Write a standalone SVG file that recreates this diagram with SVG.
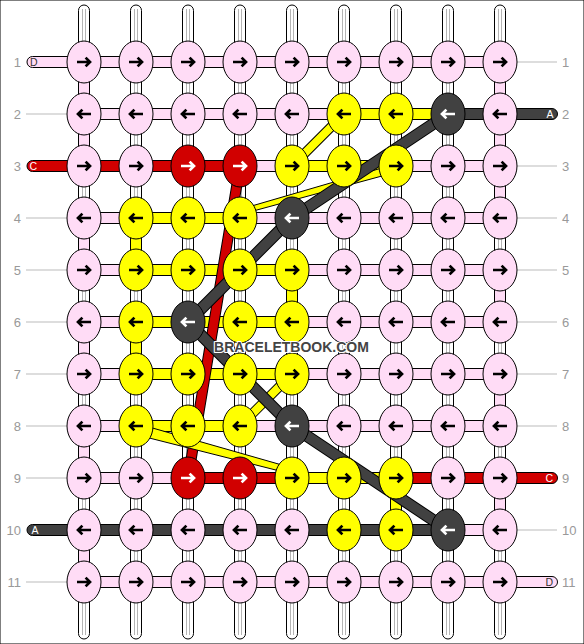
<svg xmlns="http://www.w3.org/2000/svg" xmlns:xlink="http://www.w3.org/1999/xlink" width="584" height="644" viewBox="0 0 584 644">
<style>
.P{fill:#ffdcf6}.Y{fill:#ffff00}.R{fill:#d10000}.G{fill:#414141}.W{fill:#fff}
ellipse,rect{stroke:#000;stroke-width:1}
.b{stroke:#000}.w{stroke:#fff}
.in{stroke:#b4b4b4;stroke-width:1}
.lbl{font-family:"Liberation Sans",Arial,sans-serif;font-size:13px;fill:#999}
.ll{stroke:#bbb;stroke-width:1}
.tl{font-family:"Liberation Sans",Arial,sans-serif;font-size:10.5px}
.wm{font-family:"Liberation Sans",Arial,sans-serif;font-size:14px;font-weight:bold;fill:#444;stroke:#fff;stroke-width:2.2;paint-order:stroke;stroke-linejoin:round}
</style>
<defs>
<path id="AR" d="M-7,0H5.5M1.6,-4.4L6,0L1.6,4.4" fill="none" stroke-width="2.7"/>
<path id="AL" d="M7,0H-5.5M-1.6,-4.4L-6,0L-1.6,4.4" fill="none" stroke-width="2.7"/>
</defs>
<rect width="584" height="644" fill="#fff" stroke="none"/>
<g id="labels">
<g class="ll">
<line x1="26" y1="114" x2="67" y2="114"/><line x1="26" y1="218" x2="67" y2="218"/><line x1="26" y1="270" x2="67" y2="270"/><line x1="26" y1="322" x2="67" y2="322"/><line x1="26" y1="374" x2="67" y2="374"/><line x1="26" y1="426" x2="67" y2="426"/><line x1="26" y1="478" x2="67" y2="478"/><line x1="26" y1="582" x2="67" y2="582"/>
<line x1="517" y1="62" x2="557" y2="62"/><line x1="517" y1="166" x2="557" y2="166"/><line x1="517" y1="218" x2="557" y2="218"/><line x1="517" y1="270" x2="557" y2="270"/><line x1="517" y1="322" x2="557" y2="322"/><line x1="517" y1="374" x2="557" y2="374"/><line x1="517" y1="426" x2="557" y2="426"/><line x1="517" y1="530" x2="557" y2="530"/>
</g>
<g class="lbl" text-anchor="end">
<text x="21" y="66.5">1</text><text x="21" y="118.5">2</text><text x="21" y="170.5">3</text><text x="21" y="222.5">4</text><text x="21" y="274.5">5</text><text x="21" y="326.5">6</text><text x="21" y="378.5">7</text><text x="21" y="430.5">8</text><text x="21" y="482.5">9</text><text x="21" y="534.5">10</text><text x="21" y="586.5">11</text>
</g>
<g class="lbl">
<text x="562" y="66.5">1</text><text x="562" y="118.5">2</text><text x="562" y="170.5">3</text><text x="562" y="222.5">4</text><text x="562" y="274.5">5</text><text x="562" y="326.5">6</text><text x="562" y="378.5">7</text><text x="562" y="430.5">8</text><text x="562" y="482.5">9</text><text x="562" y="534.5">10</text><text x="562" y="586.5">11</text>
</g>
</g>
<g id="connectors">
<g id="base-strings">
<rect class="W" x="78.5" y="5" width="11" height="634" rx="5.5"/>
<rect class="W" x="130.5" y="5" width="11" height="634" rx="5.5"/>
<rect class="W" x="182.5" y="5" width="11" height="634" rx="5.5"/>
<rect class="W" x="234.5" y="5" width="11" height="634" rx="5.5"/>
<rect class="W" x="286.5" y="5" width="11" height="634" rx="5.5"/>
<rect class="W" x="338.5" y="5" width="11" height="634" rx="5.5"/>
<rect class="W" x="390.5" y="5" width="11" height="634" rx="5.5"/>
<rect class="W" x="442.5" y="5" width="11" height="634" rx="5.5"/>
<rect class="W" x="494.5" y="5" width="11" height="634" rx="5.5"/>
<g class="in">
<path d="M82.5,9V635M85.5,9V635M134.5,9V635M137.5,9V635M186.5,9V635M189.5,9V635M238.5,9V635M241.5,9V635M290.5,9V635M293.5,9V635M342.5,9V635M345.5,9V635M394.5,9V635M397.5,9V635M446.5,9V635M449.5,9V635M498.5,9V635M501.5,9V635"/>
</g>
</g>
<g id="vertical-segments">
<rect class="P" x="78.5" y="62" width="11" height="52"/>
<rect class="P" x="78.5" y="114" width="11" height="52"/>
<rect class="P" x="78.5" y="218" width="11" height="52"/>
<rect class="P" x="78.5" y="322" width="11" height="52"/>
<rect class="P" x="78.5" y="426" width="11" height="52"/>
<rect class="P" x="78.5" y="530" width="11" height="52"/>
<rect class="P" x="494.5" y="62" width="11" height="52"/>
<rect class="P" x="494.5" y="114" width="11" height="52"/>
<rect class="P" x="494.5" y="166" width="11" height="52"/>
<rect class="P" x="494.5" y="270" width="11" height="52"/>
<rect class="P" x="494.5" y="374" width="11" height="52"/>
<rect class="P" x="494.5" y="478" width="11" height="52"/>
<rect class="Y" x="130.5" y="218" width="11" height="52"/>
<rect class="Y" x="130.5" y="322" width="11" height="52"/>
<rect class="Y" x="286.5" y="270" width="11" height="52"/>
<rect class="Y" x="390.5" y="478" width="11" height="52"/>
</g>
<g id="horizontal-segments">
<rect class="P" x="27" y="56.5" width="60" height="11" rx="5.5"/>
<rect class="P" x="84" y="56.5" width="416" height="11"/>
<rect class="P" x="84" y="108.5" width="208" height="11"/>
<rect class="P" x="292" y="108.5" width="52" height="11"/>
<rect class="Y" x="344" y="108.5" width="104" height="11"/>
<rect class="G" x="448" y="108.5" width="109.5" height="11" rx="5.5"/>
<rect class="R" x="27" y="160.5" width="213" height="11" rx="5.5"/>
<rect class="P" x="240" y="160.5" width="52" height="11"/>
<rect class="Y" x="292" y="160.5" width="104" height="11"/>
<rect class="P" x="396" y="160.5" width="104" height="11"/>
<rect class="P" x="84" y="212.5" width="52" height="11"/>
<rect class="Y" x="136" y="212.5" width="104" height="11"/>
<rect class="P" x="240" y="212.5" width="260" height="11"/>
<rect class="P" x="84" y="264.5" width="52" height="11"/>
<rect class="Y" x="136" y="264.5" width="156" height="11"/>
<rect class="P" x="292" y="264.5" width="208" height="11"/>
<rect class="P" x="84" y="316.5" width="52" height="11"/>
<rect class="Y" x="136" y="316.5" width="156" height="11"/>
<rect class="P" x="292" y="316.5" width="208" height="11"/>
<rect class="P" x="84" y="368.5" width="52" height="11"/>
<rect class="Y" x="136" y="368.5" width="156" height="11"/>
<rect class="P" x="292" y="368.5" width="208" height="11"/>
<rect class="P" x="84" y="420.5" width="52" height="11"/>
<rect class="Y" x="136" y="420.5" width="104" height="11"/>
<rect class="P" x="240" y="420.5" width="260" height="11"/>
<rect class="P" x="84" y="472.5" width="104" height="11"/>
<rect class="R" x="188" y="472.5" width="104" height="11"/>
<rect class="Y" x="292" y="472.5" width="104" height="11"/>
<rect class="R" x="396" y="472.5" width="161.5" height="11" rx="5.5"/>
<rect class="G" x="27" y="524.5" width="421" height="11" rx="5.5"/>
<rect class="P" x="448" y="524.5" width="52" height="11"/>
<rect class="P" x="84" y="576.5" width="473.5" height="11" rx="5.5"/>
</g>
<g id="jumps" fill="none" stroke-linejoin="round">
<path d="M240,166L188,478" stroke="#000" stroke-width="11"/>
<path d="M240,166L188,478" stroke="#d10000" stroke-width="9"/>
<path d="M344,114L292,166M292,374L240,426" stroke="#000" stroke-width="10"/>
<path d="M344,114L292,166M292,374L240,426" stroke="#ffff00" stroke-width="8"/>
<polygon points="394.9,164.2 239.3,209.6 240.7,214.4 397.1,171.9" fill="#ffff00" stroke="#000" stroke-width="1"/>
<polygon points="137.4,423.7 292.8,468.1 291.2,473.9 134.6,434.3" fill="#ffff00" stroke="#000" stroke-width="1"/>
<path d="M448,114L292,218L188,322L292,426L448,530" stroke="#000" stroke-width="12"/>
<path d="M448,114L292,218L188,322L292,426L448,530" stroke="#414141" stroke-width="10"/>
</g>
<g id="tail-letters" class="tl">
<text x="30" y="66" fill="#333">D</text>
<text x="546.5" y="118" fill="#fff">A</text>
<text x="29.5" y="170" fill="#fff">C</text>
<text x="545.5" y="482" fill="#fff">C</text>
<text x="31.5" y="534" fill="#fff">A</text>
<text x="545.5" y="586" fill="#333">D</text>
</g>
</g>
<g id="knots">
<g id="k1-1"><ellipse class="P" cx="84" cy="62" rx="17" ry="21"/><use href="#AR" x="84" y="62" class="b"/></g>
<g id="k1-2"><ellipse class="P" cx="136" cy="62" rx="17" ry="21"/><use href="#AR" x="136" y="62" class="b"/></g>
<g id="k1-3"><ellipse class="P" cx="188" cy="62" rx="17" ry="21"/><use href="#AR" x="188" y="62" class="b"/></g>
<g id="k1-4"><ellipse class="P" cx="240" cy="62" rx="17" ry="21"/><use href="#AR" x="240" y="62" class="b"/></g>
<g id="k1-5"><ellipse class="P" cx="292" cy="62" rx="17" ry="21"/><use href="#AR" x="292" y="62" class="b"/></g>
<g id="k1-6"><ellipse class="P" cx="344" cy="62" rx="17" ry="21"/><use href="#AR" x="344" y="62" class="b"/></g>
<g id="k1-7"><ellipse class="P" cx="396" cy="62" rx="17" ry="21"/><use href="#AR" x="396" y="62" class="b"/></g>
<g id="k1-8"><ellipse class="P" cx="448" cy="62" rx="17" ry="21"/><use href="#AR" x="448" y="62" class="b"/></g>
<g id="k1-9"><ellipse class="P" cx="500" cy="62" rx="17" ry="21"/><use href="#AR" x="500" y="62" class="b"/></g>
<g id="k2-1"><ellipse class="P" cx="84" cy="114" rx="17" ry="21"/><use href="#AL" x="84" y="114" class="b"/></g>
<g id="k2-2"><ellipse class="P" cx="136" cy="114" rx="17" ry="21"/><use href="#AL" x="136" y="114" class="b"/></g>
<g id="k2-3"><ellipse class="P" cx="188" cy="114" rx="17" ry="21"/><use href="#AL" x="188" y="114" class="b"/></g>
<g id="k2-4"><ellipse class="P" cx="240" cy="114" rx="17" ry="21"/><use href="#AL" x="240" y="114" class="b"/></g>
<g id="k2-5"><ellipse class="P" cx="292" cy="114" rx="17" ry="21"/><use href="#AL" x="292" y="114" class="b"/></g>
<g id="k2-6"><ellipse class="Y" cx="344" cy="114" rx="17" ry="21"/><use href="#AL" x="344" y="114" class="b"/></g>
<g id="k2-7"><ellipse class="Y" cx="396" cy="114" rx="17" ry="21"/><use href="#AL" x="396" y="114" class="b"/></g>
<g id="k2-8"><ellipse class="G" cx="448" cy="114" rx="17" ry="21"/><use href="#AL" x="448" y="114" class="w"/></g>
<g id="k2-9"><ellipse class="P" cx="500" cy="114" rx="17" ry="21"/><use href="#AL" x="500" y="114" class="b"/></g>
<g id="k3-1"><ellipse class="P" cx="84" cy="166" rx="17" ry="21"/><use href="#AR" x="84" y="166" class="b"/></g>
<g id="k3-2"><ellipse class="P" cx="136" cy="166" rx="17" ry="21"/><use href="#AR" x="136" y="166" class="b"/></g>
<g id="k3-3"><ellipse class="R" cx="188" cy="166" rx="17" ry="21"/><use href="#AR" x="188" y="166" class="w"/></g>
<g id="k3-4"><ellipse class="R" cx="240" cy="166" rx="17" ry="21"/><use href="#AR" x="240" y="166" class="w"/></g>
<g id="k3-5"><ellipse class="Y" cx="292" cy="166" rx="17" ry="21"/><use href="#AR" x="292" y="166" class="b"/></g>
<g id="k3-6"><ellipse class="Y" cx="344" cy="166" rx="17" ry="21"/><use href="#AR" x="344" y="166" class="b"/></g>
<g id="k3-7"><ellipse class="Y" cx="396" cy="166" rx="17" ry="21"/><use href="#AR" x="396" y="166" class="b"/></g>
<g id="k3-8"><ellipse class="P" cx="448" cy="166" rx="17" ry="21"/><use href="#AR" x="448" y="166" class="b"/></g>
<g id="k3-9"><ellipse class="P" cx="500" cy="166" rx="17" ry="21"/><use href="#AR" x="500" y="166" class="b"/></g>
<g id="k4-1"><ellipse class="P" cx="84" cy="218" rx="17" ry="21"/><use href="#AL" x="84" y="218" class="b"/></g>
<g id="k4-2"><ellipse class="Y" cx="136" cy="218" rx="17" ry="21"/><use href="#AL" x="136" y="218" class="b"/></g>
<g id="k4-3"><ellipse class="Y" cx="188" cy="218" rx="17" ry="21"/><use href="#AL" x="188" y="218" class="b"/></g>
<g id="k4-4"><ellipse class="Y" cx="240" cy="218" rx="17" ry="21"/><use href="#AL" x="240" y="218" class="b"/></g>
<g id="k4-5"><ellipse class="G" cx="292" cy="218" rx="17" ry="21"/><use href="#AL" x="292" y="218" class="w"/></g>
<g id="k4-6"><ellipse class="P" cx="344" cy="218" rx="17" ry="21"/><use href="#AL" x="344" y="218" class="b"/></g>
<g id="k4-7"><ellipse class="P" cx="396" cy="218" rx="17" ry="21"/><use href="#AL" x="396" y="218" class="b"/></g>
<g id="k4-8"><ellipse class="P" cx="448" cy="218" rx="17" ry="21"/><use href="#AL" x="448" y="218" class="b"/></g>
<g id="k4-9"><ellipse class="P" cx="500" cy="218" rx="17" ry="21"/><use href="#AL" x="500" y="218" class="b"/></g>
<g id="k5-1"><ellipse class="P" cx="84" cy="270" rx="17" ry="21"/><use href="#AR" x="84" y="270" class="b"/></g>
<g id="k5-2"><ellipse class="Y" cx="136" cy="270" rx="17" ry="21"/><use href="#AR" x="136" y="270" class="b"/></g>
<g id="k5-3"><ellipse class="Y" cx="188" cy="270" rx="17" ry="21"/><use href="#AR" x="188" y="270" class="b"/></g>
<g id="k5-4"><ellipse class="Y" cx="240" cy="270" rx="17" ry="21"/><use href="#AR" x="240" y="270" class="b"/></g>
<g id="k5-5"><ellipse class="Y" cx="292" cy="270" rx="17" ry="21"/><use href="#AR" x="292" y="270" class="b"/></g>
<g id="k5-6"><ellipse class="P" cx="344" cy="270" rx="17" ry="21"/><use href="#AR" x="344" y="270" class="b"/></g>
<g id="k5-7"><ellipse class="P" cx="396" cy="270" rx="17" ry="21"/><use href="#AR" x="396" y="270" class="b"/></g>
<g id="k5-8"><ellipse class="P" cx="448" cy="270" rx="17" ry="21"/><use href="#AR" x="448" y="270" class="b"/></g>
<g id="k5-9"><ellipse class="P" cx="500" cy="270" rx="17" ry="21"/><use href="#AR" x="500" y="270" class="b"/></g>
<g id="k6-1"><ellipse class="P" cx="84" cy="322" rx="17" ry="21"/><use href="#AL" x="84" y="322" class="b"/></g>
<g id="k6-2"><ellipse class="Y" cx="136" cy="322" rx="17" ry="21"/><use href="#AL" x="136" y="322" class="b"/></g>
<g id="k6-3"><ellipse class="G" cx="188" cy="322" rx="17" ry="21"/><use href="#AL" x="188" y="322" class="w"/></g>
<g id="k6-4"><ellipse class="Y" cx="240" cy="322" rx="17" ry="21"/><use href="#AL" x="240" y="322" class="b"/></g>
<g id="k6-5"><ellipse class="Y" cx="292" cy="322" rx="17" ry="21"/><use href="#AL" x="292" y="322" class="b"/></g>
<g id="k6-6"><ellipse class="P" cx="344" cy="322" rx="17" ry="21"/><use href="#AL" x="344" y="322" class="b"/></g>
<g id="k6-7"><ellipse class="P" cx="396" cy="322" rx="17" ry="21"/><use href="#AL" x="396" y="322" class="b"/></g>
<g id="k6-8"><ellipse class="P" cx="448" cy="322" rx="17" ry="21"/><use href="#AL" x="448" y="322" class="b"/></g>
<g id="k6-9"><ellipse class="P" cx="500" cy="322" rx="17" ry="21"/><use href="#AL" x="500" y="322" class="b"/></g>
<g id="k7-1"><ellipse class="P" cx="84" cy="374" rx="17" ry="21"/><use href="#AR" x="84" y="374" class="b"/></g>
<g id="k7-2"><ellipse class="Y" cx="136" cy="374" rx="17" ry="21"/><use href="#AR" x="136" y="374" class="b"/></g>
<g id="k7-3"><ellipse class="Y" cx="188" cy="374" rx="17" ry="21"/><use href="#AR" x="188" y="374" class="b"/></g>
<g id="k7-4"><ellipse class="Y" cx="240" cy="374" rx="17" ry="21"/><use href="#AR" x="240" y="374" class="b"/></g>
<g id="k7-5"><ellipse class="Y" cx="292" cy="374" rx="17" ry="21"/><use href="#AR" x="292" y="374" class="b"/></g>
<g id="k7-6"><ellipse class="P" cx="344" cy="374" rx="17" ry="21"/><use href="#AR" x="344" y="374" class="b"/></g>
<g id="k7-7"><ellipse class="P" cx="396" cy="374" rx="17" ry="21"/><use href="#AR" x="396" y="374" class="b"/></g>
<g id="k7-8"><ellipse class="P" cx="448" cy="374" rx="17" ry="21"/><use href="#AR" x="448" y="374" class="b"/></g>
<g id="k7-9"><ellipse class="P" cx="500" cy="374" rx="17" ry="21"/><use href="#AR" x="500" y="374" class="b"/></g>
<g id="k8-1"><ellipse class="P" cx="84" cy="426" rx="17" ry="21"/><use href="#AL" x="84" y="426" class="b"/></g>
<g id="k8-2"><ellipse class="Y" cx="136" cy="426" rx="17" ry="21"/><use href="#AL" x="136" y="426" class="b"/></g>
<g id="k8-3"><ellipse class="Y" cx="188" cy="426" rx="17" ry="21"/><use href="#AL" x="188" y="426" class="b"/></g>
<g id="k8-4"><ellipse class="Y" cx="240" cy="426" rx="17" ry="21"/><use href="#AL" x="240" y="426" class="b"/></g>
<g id="k8-5"><ellipse class="G" cx="292" cy="426" rx="17" ry="21"/><use href="#AL" x="292" y="426" class="w"/></g>
<g id="k8-6"><ellipse class="P" cx="344" cy="426" rx="17" ry="21"/><use href="#AL" x="344" y="426" class="b"/></g>
<g id="k8-7"><ellipse class="P" cx="396" cy="426" rx="17" ry="21"/><use href="#AL" x="396" y="426" class="b"/></g>
<g id="k8-8"><ellipse class="P" cx="448" cy="426" rx="17" ry="21"/><use href="#AL" x="448" y="426" class="b"/></g>
<g id="k8-9"><ellipse class="P" cx="500" cy="426" rx="17" ry="21"/><use href="#AL" x="500" y="426" class="b"/></g>
<g id="k9-1"><ellipse class="P" cx="84" cy="478" rx="17" ry="21"/><use href="#AR" x="84" y="478" class="b"/></g>
<g id="k9-2"><ellipse class="P" cx="136" cy="478" rx="17" ry="21"/><use href="#AR" x="136" y="478" class="b"/></g>
<g id="k9-3"><ellipse class="R" cx="188" cy="478" rx="17" ry="21"/><use href="#AR" x="188" y="478" class="w"/></g>
<g id="k9-4"><ellipse class="R" cx="240" cy="478" rx="17" ry="21"/><use href="#AR" x="240" y="478" class="w"/></g>
<g id="k9-5"><ellipse class="Y" cx="292" cy="478" rx="17" ry="21"/><use href="#AR" x="292" y="478" class="b"/></g>
<g id="k9-6"><ellipse class="Y" cx="344" cy="478" rx="17" ry="21"/><use href="#AR" x="344" y="478" class="b"/></g>
<g id="k9-7"><ellipse class="Y" cx="396" cy="478" rx="17" ry="21"/><use href="#AR" x="396" y="478" class="b"/></g>
<g id="k9-8"><ellipse class="P" cx="448" cy="478" rx="17" ry="21"/><use href="#AR" x="448" y="478" class="b"/></g>
<g id="k9-9"><ellipse class="P" cx="500" cy="478" rx="17" ry="21"/><use href="#AR" x="500" y="478" class="b"/></g>
<g id="k10-1"><ellipse class="P" cx="84" cy="530" rx="17" ry="21"/><use href="#AL" x="84" y="530" class="b"/></g>
<g id="k10-2"><ellipse class="P" cx="136" cy="530" rx="17" ry="21"/><use href="#AL" x="136" y="530" class="b"/></g>
<g id="k10-3"><ellipse class="P" cx="188" cy="530" rx="17" ry="21"/><use href="#AL" x="188" y="530" class="b"/></g>
<g id="k10-4"><ellipse class="P" cx="240" cy="530" rx="17" ry="21"/><use href="#AL" x="240" y="530" class="b"/></g>
<g id="k10-5"><ellipse class="P" cx="292" cy="530" rx="17" ry="21"/><use href="#AL" x="292" y="530" class="b"/></g>
<g id="k10-6"><ellipse class="Y" cx="344" cy="530" rx="17" ry="21"/><use href="#AL" x="344" y="530" class="b"/></g>
<g id="k10-7"><ellipse class="Y" cx="396" cy="530" rx="17" ry="21"/><use href="#AL" x="396" y="530" class="b"/></g>
<g id="k10-8"><ellipse class="G" cx="448" cy="530" rx="17" ry="21"/><use href="#AL" x="448" y="530" class="w"/></g>
<g id="k10-9"><ellipse class="P" cx="500" cy="530" rx="17" ry="21"/><use href="#AL" x="500" y="530" class="b"/></g>
<g id="k11-1"><ellipse class="P" cx="84" cy="582" rx="17" ry="21"/><use href="#AR" x="84" y="582" class="b"/></g>
<g id="k11-2"><ellipse class="P" cx="136" cy="582" rx="17" ry="21"/><use href="#AR" x="136" y="582" class="b"/></g>
<g id="k11-3"><ellipse class="P" cx="188" cy="582" rx="17" ry="21"/><use href="#AR" x="188" y="582" class="b"/></g>
<g id="k11-4"><ellipse class="P" cx="240" cy="582" rx="17" ry="21"/><use href="#AR" x="240" y="582" class="b"/></g>
<g id="k11-5"><ellipse class="P" cx="292" cy="582" rx="17" ry="21"/><use href="#AR" x="292" y="582" class="b"/></g>
<g id="k11-6"><ellipse class="P" cx="344" cy="582" rx="17" ry="21"/><use href="#AR" x="344" y="582" class="b"/></g>
<g id="k11-7"><ellipse class="P" cx="396" cy="582" rx="17" ry="21"/><use href="#AR" x="396" y="582" class="b"/></g>
<g id="k11-8"><ellipse class="P" cx="448" cy="582" rx="17" ry="21"/><use href="#AR" x="448" y="582" class="b"/></g>
<g id="k11-9"><ellipse class="P" cx="500" cy="582" rx="17" ry="21"/><use href="#AR" x="500" y="582" class="b"/></g>
</g>
<text id="watermark" class="wm" x="291.5" y="352" text-anchor="middle">BRACELETBOOK.COM</text>
</svg>
